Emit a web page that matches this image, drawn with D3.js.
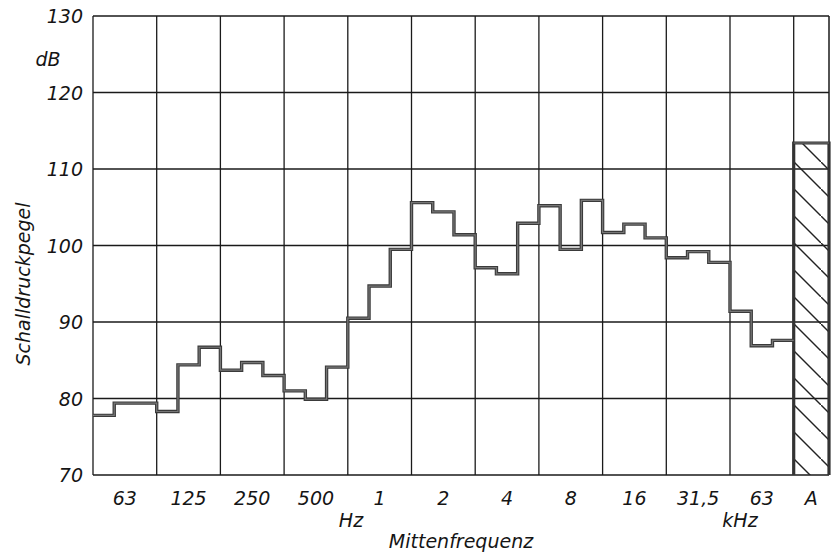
<!DOCTYPE html>
<html>
<head>
<meta charset="utf-8">
<script src="https://cdn.jsdelivr.net/npm/d3@7"></script>
<style>
  body { margin: 0; background: #fff; }
  text { font-family: "DejaVu Sans", sans-serif; font-style: italic; fill: #151515; }
</style>
</head>
<body>
<script>
// Terzband-Pegel in dB, 33 Baender (3 pro Oktave)
const levels = [
  77.8, 79.4, 79.4,
  78.3, 84.4, 86.7,
  83.7, 84.7, 83.0,
  81.0, 79.9, 84.1,
  90.5, 94.7, 99.5,
  105.6, 104.4, 101.4,
  97.1, 96.3, 102.9,
  105.2, 99.5, 105.9,
  101.7, 102.8, 101.0,
  98.4, 99.2, 97.8,
  91.4, 86.9, 87.6
];
const octaveLabels = ['63', '125', '250', '500', '1', '2', '4', '8', '16', '31,5', '63'];
const totalA = 113.4;
const yTicks = [70, 80, 90, 100, 110, 120, 130];

const W = 831, H = 560;
const pLeft = 93, pRight = 829, pTop = 16, pBottom = 475;
const bandsEnd = 793.7;

const svg = d3.select('body')
              .append('svg')
              .attr('width', W)
              .attr('height', H);

const x = d3.scaleLinear().domain([0, levels.length]).range([pLeft, bandsEnd]);
const y = d3.scaleLinear().domain([70, 130]).range([pBottom, pTop]);

// schraffur fuer die A-Saeule
const defs = svg.append('defs');
defs.append('pattern')
    .attr('id', 'hatch')
    .attr('patternUnits', 'userSpaceOnUse')
    .attr('width', 27).attr('height', 27)
    .attr('patternTransform', 'translate(794,0)')
    .append('path')
    .attr('d', 'M-27,-27 L54,54')
    .attr('stroke', '#222')
    .attr('stroke-width', 1.4);

// gitter
const grid = svg.append('g');
grid.selectAll('line.h')
    .data(yTicks)
    .join('line')
    .attr('x1', pLeft).attr('x2', pRight)
    .attr('y1', d => y(d)).attr('y2', d => y(d))
    .attr('stroke', '#1a1a1a').attr('stroke-width', 1.3);

const vLines = d3.range(0, levels.length + 1, 3);
grid.selectAll('line.v')
    .data(vLines)
    .join('line')
    .attr('x1', d => x(d)).attr('x2', d => x(d))
    .attr('y1', pTop).attr('y2', pBottom)
    .attr('stroke', '#1a1a1a').attr('stroke-width', 1.3);

grid.append('line')
    .attr('x1', pRight).attr('x2', pRight)
    .attr('y1', pTop).attr('y2', pBottom)
    .attr('stroke', '#1a1a1a').attr('stroke-width', 1.5);

// A-Saeule
svg.append('rect')
    .attr('x', x(levels.length)).attr('y', y(totalA))
    .attr('width', pRight - x(levels.length))
    .attr('height', y(70) - y(totalA))
    .attr('fill', 'url(#hatch)');
svg.append('path')
    .attr('d', `M${x(levels.length)},${y(70)} V${y(totalA)} H${pRight} V${y(70)}`)
    .attr('fill', 'none')
    .attr('stroke', '#333').attr('stroke-width', 3.2);
svg.append('line')
    .attr('x1', x(levels.length)).attr('x2', pRight)
    .attr('y1', y(totalA)).attr('y2', y(totalA))
    .attr('stroke', '#777').attr('stroke-width', 1);

// treppenkurve
const stepLine = d3.line()
    .x(d => x(d.i))
    .y(d => y(d.v))
    .curve(d3.curveStepAfter);
const pts = levels.map((v, i) => ({i: i, v: v}));
pts.push({i: levels.length, v: levels[levels.length - 1]});

svg.append('path')
    .attr('d', stepLine(pts))
    .attr('fill', 'none')
    .attr('stroke', '#3a3a3a').attr('stroke-width', 3.4);
svg.append('path')
    .attr('d', stepLine(pts))
    .attr('fill', 'none')
    .attr('stroke', '#777').attr('stroke-width', 1.2);

// beschriftung
svg.selectAll('text.yt')
    .data(yTicks)
    .join('text')
    .attr('x', 83)
    .attr('y', d => y(d) + 7)
    .attr('text-anchor', 'end')
    .attr('font-size', 19)
    .text(d => d);

svg.selectAll('text.xt')
    .data(octaveLabels)
    .join('text')
    .attr('x', (d, i) => x(i * 3 + 1.5))
    .attr('y', 505)
    .attr('text-anchor', 'middle')
    .attr('font-size', 19)
    .text(d => d);

svg.append('text')
    .attr('x', (x(levels.length) + pRight) / 2)
    .attr('y', 505)
    .attr('text-anchor', 'middle')
    .attr('font-size', 19)
    .text('A');

svg.append('text').attr('x', 351).attr('y', 527)
    .attr('text-anchor', 'middle').attr('font-size', 19).text('Hz');
svg.append('text').attr('x', 740).attr('y', 527)
    .attr('text-anchor', 'middle').attr('font-size', 19).text('kHz');
svg.append('text').attr('x', 461).attr('y', 548)
    .attr('text-anchor', 'middle').attr('font-size', 19).text('Mittenfrequenz');
svg.append('text').attr('x', 48).attr('y', 66)
    .attr('text-anchor', 'middle').attr('font-size', 19).text('dB');
svg.append('text')
    .attr('transform', 'translate(30,284) rotate(-90)')
    .attr('text-anchor', 'middle')
    .attr('font-size', 19)
    .text('Schalldruckpegel');
</script>
</body>
</html>
